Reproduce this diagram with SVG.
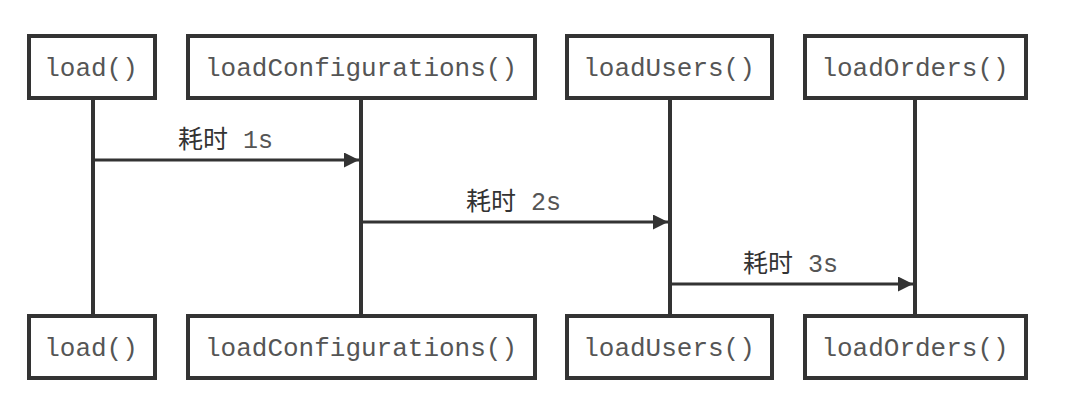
<svg xmlns="http://www.w3.org/2000/svg" width="1080" height="401" viewBox="0 0 1080 401">
<style>
.box{fill:#fff;stroke:#333;stroke-width:4}
.life{stroke:#333;stroke-width:4;fill:none}
.msg{stroke:#333;stroke-width:3;fill:none}
.t{font-family:"Liberation Mono","Courier New",monospace;font-size:26px;fill:#555;text-anchor:middle}
.lbl{font-family:"Noto Sans CJK SC","Liberation Mono",sans-serif;font-size:25px;fill:#333}
.num{font-family:"Liberation Mono",monospace;font-size:25px;fill:#555}
</style>
<defs>
<marker id="ah" viewBox="0 0 10 10" refX="10" refY="5" markerWidth="5.5" markerHeight="5" markerUnits="strokeWidth" orient="auto">
<path d="M0,0 L10,5 L0,10 Z" fill="#333"/>
</marker>
</defs>
<rect width="1080" height="401" fill="#fff"/>
<g id="lifelines">
<line class="life" x1="93" y1="98" x2="93" y2="316"/>
<line class="life" x1="361" y1="98" x2="361" y2="316"/>
<line class="life" x1="670" y1="98" x2="670" y2="316"/>
<line class="life" x1="915" y1="98" x2="915" y2="316"/>
</g>
<g id="node-load-top"><rect class="box" x="29" y="36" width="126" height="62"/><text class="t" x="91" y="76">load()</text></g>
<g id="node-loadConfigurations-top"><rect class="box" x="188" y="36" width="347" height="62"/><text class="t" x="361" y="76">loadConfigurations()</text></g>
<g id="node-loadUsers-top"><rect class="box" x="567" y="36" width="205" height="62"/><text class="t" x="669" y="76">loadUsers()</text></g>
<g id="node-loadOrders-top"><rect class="box" x="805" y="36" width="221" height="62"/><text class="t" x="915" y="76">loadOrders()</text></g>
<g id="node-load-bottom"><rect class="box" x="29" y="316" width="126" height="62"/><text class="t" x="91" y="356">load()</text></g>
<g id="node-loadConfigurations-bottom"><rect class="box" x="188" y="316" width="347" height="62"/><text class="t" x="361" y="356">loadConfigurations()</text></g>
<g id="node-loadUsers-bottom"><rect class="box" x="567" y="316" width="205" height="62"/><text class="t" x="669" y="356">loadUsers()</text></g>
<g id="node-loadOrders-bottom"><rect class="box" x="805" y="316" width="221" height="62"/><text class="t" x="915" y="356">loadOrders()</text></g>
<g id="connectors">
<line class="msg" x1="93" y1="160" x2="359" y2="160" marker-end="url(#ah)"/>
<line class="msg" x1="361" y1="222" x2="668" y2="222" marker-end="url(#ah)"/>
<line class="msg" x1="670" y1="284" x2="913" y2="284" marker-end="url(#ah)"/>
<text x="178" y="148"><tspan class="lbl">耗时</tspan><tspan class="num" dx="15">1s</tspan></text>
<text x="466" y="210"><tspan class="lbl">耗时</tspan><tspan class="num" dx="15">2s</tspan></text>
<text x="743" y="272"><tspan class="lbl">耗时</tspan><tspan class="num" dx="15">3s</tspan></text>
</g>
</svg>
